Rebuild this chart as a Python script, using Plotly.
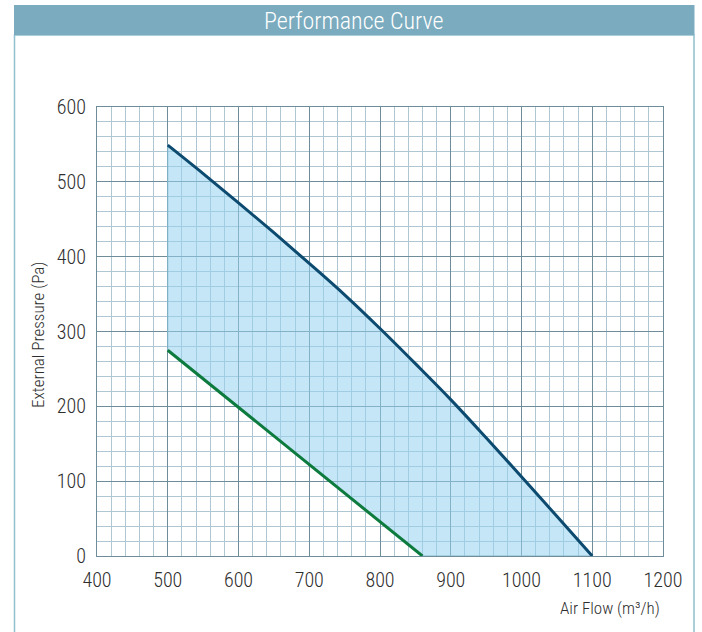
import plotly.graph_objects as go

# Data
upper_flow = [500, 550, 600, 650, 700, 750, 800, 850, 900, 950, 1000, 1050, 1100]
upper_pressure = [549, 511, 472, 432, 391, 349, 304, 257, 209, 158, 106, 53, 0]
lower_flow = [500, 860]
lower_pressure = [275, 0]
x_ticks = [400, 500, 600, 700, 800, 900, 1000, 1100, 1200]
y_ticks = [0, 100, 200, 300, 400, 500, 600]

FONT = "Roboto Condensed, Liberation Sans Narrow, DejaVu Sans Condensed, Roboto, sans-serif"
TXT = "#2e2e2e"

fig = go.Figure()

# Shaded operating region
poly_x = upper_flow + lower_flow[::-1] + [upper_flow[0]]
poly_y = upper_pressure + lower_pressure[::-1] + [upper_pressure[0]]
fig.add_trace(go.Scatter(x=poly_x, y=poly_y, mode="lines", fill="toself",
                         fillcolor="rgba(150,210,238,0.55)",
                         line=dict(color="#86b9cf", width=1),
                         hoverinfo="skip", showlegend=False))
fig.add_trace(go.Scatter(x=upper_flow, y=upper_pressure, mode="lines",
                         line=dict(color="#0d4a70", width=3, shape="spline", smoothing=1.0),
                         showlegend=False))
fig.add_trace(go.Scatter(x=lower_flow, y=lower_pressure, mode="lines",
                         line=dict(color="#0d7a3e", width=3), showlegend=False))

L, R, T, B = 97, 39, 107, 76
W, H = 702, 632
pw, ph = W - L - R, H - T - B

def px(xp):
    return (xp - L) / pw

def py(yp):
    return (H - B - yp) / ph

shapes = [
    # outer frame (sides only visible)
    dict(type="rect", xref="paper", yref="paper", x0=px(14.5), x1=px(694),
         y0=py(640), y1=py(35), line=dict(color="#8fc0cc", width=1.5), layer="below"),
    # title bar
    dict(type="rect", xref="paper", yref="paper", x0=px(14), x1=px(694.5),
         y0=py(35), y1=py(5), fillcolor="#7aabbe", line=dict(width=0), layer="below"),
]

axis_common = dict(
    showgrid=True, gridcolor="#6e8d99", gridwidth=1,
    minor=dict(dtick=20, showgrid=True, gridcolor="#aec7d2", gridwidth=1),
    showline=True, linecolor="#6e8d99", linewidth=1, mirror=True, zeroline=False,
    ticks="", tickfont=dict(size=20, family=FONT, color=TXT, weight=300),
)

fig.update_layout(
    width=W, height=H,
    margin=dict(l=L, r=R, t=T, b=B),
    paper_bgcolor="white", plot_bgcolor="white",
    shapes=shapes,
    font=dict(family=FONT, color=TXT),
    annotations=[
        dict(text="Performance Curve", xref="paper", yref="paper",
             x=px(354), y=py(21), showarrow=False, yanchor="middle",
             font=dict(family=FONT, size=24, color="white", weight=300)),
        dict(text="Air Flow (m³/h)", xref="paper", yref="paper",
             x=px(662), y=py(608), xanchor="right", yanchor="middle", showarrow=False,
             font=dict(family=FONT, size=17, color=TXT, weight=300)),
        dict(text="External Pressure (Pa)", xref="paper", yref="paper",
             x=px(38), y=py(335), textangle=-90, showarrow=False,
             xanchor="center", yanchor="middle",
             font=dict(family=FONT, size=17, color=TXT, weight=300)),
    ],
    xaxis=dict(range=[400, 1200], tickvals=x_ticks, ticktext=[str(v) for v in x_ticks],
               ticklabelstandoff=6, **axis_common),
    yaxis=dict(range=[0, 600], tickvals=y_ticks, ticktext=[str(v) for v in y_ticks],
               ticklabelstandoff=6, **axis_common),
)

fig.write_html("out.html", config={"displayModeBar": False},
               post_script="document.body.style.margin='0';document.body.style.overflow='hidden';")
